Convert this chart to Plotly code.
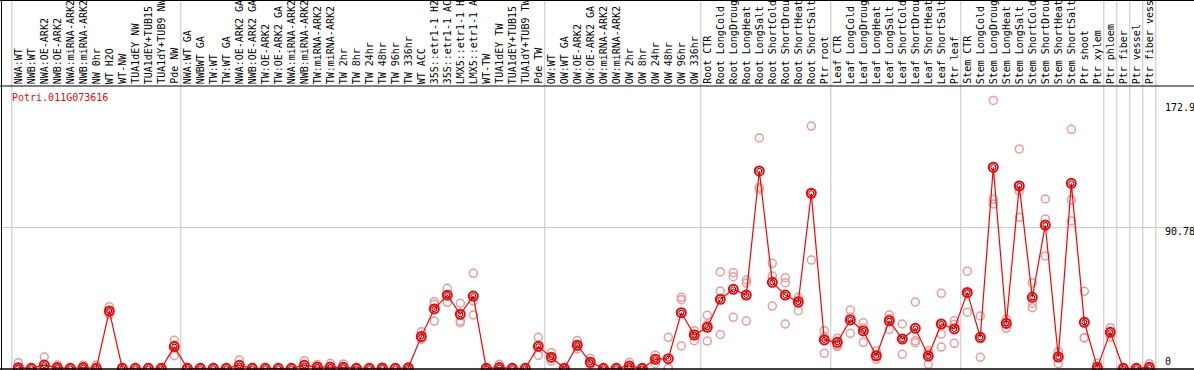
import plotly.graph_objects as go

categories = [
    "NWA:WT", "NWB:WT", "NWA:OE-ARK2", "NWB:OE-ARK2", "NWA:miRNA-ARK2", "NWB:miRNA-ARK2",
    "NW 0hr", "WT H2O", "WT-NW", "TUA1dEY NW", "TUA1dEY+TUB15 NW", "TUA1dY+TUB9 NW", "Pde NW",
    "NWA:WT GA", "NWBWT GA", "TW:WT", "TW:WT GA", "NWA:OE-ARK2 GA", "NWB:OE-ARK2 GA",
    "TW:OE-ARK2", "TW:OE-ARK2 GA", "NWA:miRNA-ARK2 GA", "NWB:miRNA-ARK2 GA", "TW:miRNA-ARK2",
    "TW:miRNA-ARK2 GA", "TW 2hr", "TW 8hr", "TW 24hr", "TW 48hr", "TW 96hr", "TW 336hr",
    "WT ACC", "35S::etr1-1 H2O", "35S::etr1-1 ACC", "LMX5::etr1-1 H2O", "LMX5::etr1-1 ACC",
    "WT-TW", "TUA1dEY TW", "TUA1dEY+TUB15 TW", "TUA1dY+TUB9 TW", "Pde TW",
    "OW:WT", "OW:WT GA", "OW:OE-ARK2", "OW:OE-ARK2 GA", "OW:miRNA-ARK2", "OW:miRNA-ARK2 GA",
    "OW 2hr", "OW 8hr", "OW 24hr", "OW 48hr", "OW 96hr", "OW 336hr",
    "Root CTR", "Root LongCold", "Root LongDrought", "Root LongHeat", "Root LongSalt",
    "Root ShortCold", "Root ShortDrought", "Root ShortHeat", "Root ShortSalt", "Ptr root",
    "Leaf CTR", "Leaf LongCold", "Leaf LongDrought", "Leaf LongHeat", "Leaf LongSalt",
    "Leaf ShortCold", "Leaf ShortDrought", "Leaf ShortHeat", "Leaf ShortSalt", "Ptr leaf",
    "Stem CTR", "Stem LongCold", "Stem LongDrought", "Stem LongHeat", "Stem LongSalt",
    "Stem ShortCold", "Stem ShortDrought", "Stem ShortHeat", "Stem ShortSalt", "Ptr shoot",
    "Ptr xylem", "Ptr phloem", "Ptr fiber", "Ptr vessel", "Ptr fiber vessel",
]

mean_values = [
    0.4, 0, 2.1, 0.5, 0, 0.5, 0, 37.0, 0, 0, 0, 0, 14.0,
    0, 0, 0, 0, 1.9, 0, 0, 0, 0, 1.9, 0.8, 0.8, 0.6, 0, 0, 0.2, 0, 0.3,
    20.6, 38.3, 47.2, 34.9, 46.6, 0, 0.5, 0, 0, 14.2,
    7.2, 0, 14.9, 3.9, 0, 0, 1.5, 0, 5.8, 6.2, 35.9, 21.5,
    26.5, 44.5, 51.0, 47.3, 127.4, 55.5, 47.3, 42.8, 113.0, 18.3,
    16.8, 31.2, 24.1, 8.1, 30.7, 18.9, 25.8, 7.9, 28.6, 25.4,
    49.0, 20.0, 129.8, 29.0, 117.7, 45.8, 92.5, 7.3, 119.4, 29.7,
    0.6, 23.2, 0, 0, 0.6,
]

rep1 = [
    3.6, 0, 7.3, 2.1, 0, 2.0, 2.0, 39.8, 0, 0, 0, 0, 18.1,
    0, 0, 0, 0, 5.4, 0, 0, 0, 0, 4.9, 2.5, 3.2, 2.8, 0, 0, 0.5, 0, 0.8,
    23.6, 43.0, 51.6, 42.0, 61.3, 0, 2.6, 0, 0, 20.0,
    10.1, 0, 18.0, 6.5, 0, 0.5, 3.9, 0, 8.5, 20.0, 45.8, 24.3,
    34.2, 62.2, 61.7, 57.0, 148.7, 67.8, 58.5, 45.8, 156.4, 24.3,
    19.4, 37.6, 29.4, 11.4, 34.4, 28.6, 42.8, 11.3, 48.4, 30.7,
    62.7, 33.8, 172.9, 31.6, 141.6, 55.3, 109.3, 10.7, 154.3, 49.7,
    3.2, 26.2, 0, 0, 3.0,
]

rep2 = [
    0, 0, 0, 0, 0, 0, 0, 35.0, 0, 0, 0, 0, 8.1,
    0, 0, 0, 0, 0.5, 0, 0, 0, 0, 0.5, 0, 0, 0, 0, 0, 0, 0, 0,
    18.7, 41.3, 42.6, 30.5, 43.4, 0, 0, 0, 0, 8.4,
    4.7, 0, 14.0, 3.0, 0, 0, 0.5, 0, 3.0, 0, 44.3, 22.0,
    17.6, 49.9, 59.1, 55.1, 116.8, 59.6, 55.3, 44.0, 69.9, 9.7,
    14.0, 22.6, 16.8, 5.8, 25.2, 9.0, 17.8, 2.6, 22.1, 16.1,
    36.2, 7.1, 109.1, 25.8, 114.5, 42.0, 96.4, 3.0, 108.7, 19.8,
    0, 23.5, 0, 0, 0,
]

rep3 = [
    0, 0, 0, 0, 0, 0, 0, 36.5, 0, 0, 0, 0, 15.0,
    0, 0, 0, 0, 0, 0, 0, 0, 0, 0, 0, 0, 0, 0, 0, 0, 0, 0,
    19.5, 30.5, 47.5, 29.4, 34.4, 0, 0, 0, 0, 14.0,
    6.5, 0, 12.5, 2.2, 0, 0, 0, 0, 5.8, 0, 14.4, 17.8,
    28.0, 21.9, 32.9, 30.5, 115.6, 40.2, 28.6, 37.2, 113.0, 20.5,
    15.0, 33.0, 26.0, 8.1, 32.0, 19.0, 16.5, 9.5, 13.7, 28.5,
    48.0, 19.0, 106.1, 29.5, 97.5, 39.1, 72.5, 8.0, 95.1, 19.6,
    0, 20.0, 0, 0, 0,
]

gene_name = "Potri.011G073616"
y_tick_labels = ["172.9", "90.78", "0"]
group_boundaries = [0.5, 13.5, 41.5, 53.5, 63.5, 73.5, 84.5, 85.5, 86.5, 87.5, 88.5]
LABEL_MAX_CHARS = 14  # the header strip only has room for this many characters

W, H = 1194, 370
PX_PER_COL = 13.0
FIRST_COL_PX = 18.3
x0 = 1 - FIRST_COL_PX / PX_PER_COL
x1 = x0 + W / PX_PER_COL
PX_PER_UNIT = 1.549
ZERO_PX = 368.3
y0 = -(H - ZERO_PX) / PX_PER_UNIT
y1 = y0 + H / PX_PER_UNIT

xs = list(range(1, len(categories) + 1))
MONO = "DejaVu Sans Mono"

fig = go.Figure()

rep_x, rep_y = [], []
for reps in (rep1, rep2, rep3):
    rep_x += xs
    rep_y += reps
fig.add_trace(go.Scatter(
    x=rep_x, y=rep_y, mode="markers",
    marker=dict(symbol="circle-open", size=8, color="#ef9a9a", line=dict(width=1.5, color="#ef9a9a")),
    hoverinfo="skip", showlegend=False, cliponaxis=False,
))
fig.add_trace(go.Scatter(
    x=xs, y=mean_values, mode="lines",
    line=dict(color="#ff0000", width=1.2),
    hoverinfo="skip", showlegend=False,
))
fig.add_trace(go.Scatter(
    x=xs, y=mean_values, mode="markers",
    marker=dict(symbol="circle-open", size=9, color="#ff0000", line=dict(width=2, color="#ff0000")),
    showlegend=False, cliponaxis=False,
))
fig.add_trace(go.Scatter(
    x=xs, y=mean_values, mode="markers",
    marker=dict(symbol="circle-open", size=5, color="#600000", line=dict(width=1, color="#600000")),
    hoverinfo="skip", showlegend=False, cliponaxis=False,
))

shapes = []
for b in group_boundaries:
    shapes.append(dict(type="line", xref="x", yref="paper", x0=b, x1=b, y0=0, y1=1,
                       line=dict(color="#c4c4c4", width=1), layer="below"))
shapes.append(dict(type="line", xref="paper", yref="y", x0=0, x1=1, y0=90.78, y1=90.78,
                   line=dict(color="#c4c4c4", width=1), layer="below"))


def py(px):
    return 1 - px / H


shapes += [
    dict(type="line", xref="paper", yref="paper", x0=0, x1=1, y0=py(86), y1=py(86), line=dict(color="black", width=1)),
    dict(type="line", xref="paper", yref="paper", x0=0, x1=1, y0=py(369), y1=py(369), line=dict(color="black", width=1.5)),
    dict(type="line", xref="paper", yref="paper", x0=1.5 / W, x1=1.5 / W, y0=0, y1=1, line=dict(color="black", width=1)),
    dict(type="line", xref="paper", yref="paper", x0=0, x1=1, y0=py(0.5), y1=py(0.5), line=dict(color="black", width=1)),
]

annotations = []
for i, name in enumerate(categories):
    annotations.append(dict(
        x=xs[i], xref="x", y=py(85), yref="paper", text=name[:LABEL_MAX_CHARS], showarrow=False,
        textangle=-90, xanchor="center", yanchor="bottom",
        font=dict(family=MONO, size=10, color="black"), borderpad=0,
    ))
annotations.append(dict(
    x=9.5 / W, xref="paper", y=py(97), yref="paper", text=gene_name, showarrow=False,
    xanchor="left", yanchor="middle", font=dict(family=MONO, size=10, color="#ff0000"),
))
tick_label_px = [107.3, 231.7, 361.7]
for lab, ypx in zip(y_tick_labels, tick_label_px):
    annotations.append(dict(
        x=1163 / W, xref="paper", y=py(ypx), yref="paper", text=lab, showarrow=False,
        xanchor="left", yanchor="middle", font=dict(family=MONO, size=10, color="black"),
    ))

fig.update_layout(
    width=W, height=H, margin=dict(l=0, r=0, t=0, b=0, pad=0),
    paper_bgcolor="white", plot_bgcolor="white",
    xaxis=dict(range=[x0, x1], visible=False, fixedrange=True),
    yaxis=dict(range=[y0, y1], visible=False, fixedrange=True),
    shapes=shapes, annotations=annotations, showlegend=False,
)

fig.write_html("out.html", config={"displayModeBar": False},
               post_script="document.body.style.margin='0';document.body.style.overflow='hidden';")
